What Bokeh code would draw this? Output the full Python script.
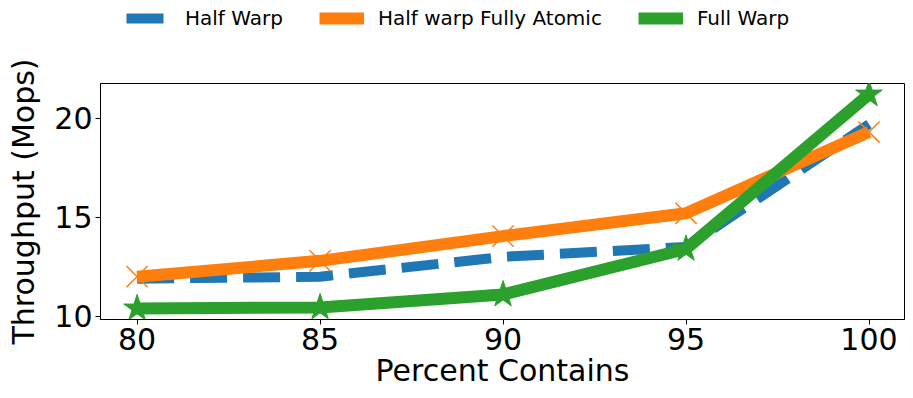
from bokeh.plotting import figure
from bokeh.models import Legend, LegendItem, FixedTicker, Range1d
from bokeh.layouts import column
from bokeh.embed import file_html
from bokeh.resources import INLINE

percent = [80, 85, 90, 95, 100]
half_warp = [11.9, 12.0, 13.0, 13.5, 19.7]
half_warp_atomic = [12.0, 12.8, 14.05, 15.2, 19.3]
full_warp = [10.4, 10.45, 11.1, 13.4, 21.2]
x_ticks = [80, 85, 90, 95, 100]
y_ticks = [10, 15, 20]

FONT = "DejaVu Sans"
BLUE, ORANGE, GREEN = "#1f77b4", "#ff7f0e", "#2ca02c"


def add_series(fig):
    r1 = fig.line(percent, half_warp, color=BLUE, line_width=10, line_dash="37 16")
    r2 = fig.line(percent, half_warp_atomic, color=ORANGE, line_width=12)
    m2 = fig.scatter(percent, half_warp_atomic, marker="x", size=30, line_color=ORANGE, line_width=1.5)
    r3 = fig.line(percent, full_warp, color=GREEN, line_width=12)
    m3 = fig.scatter(percent, full_warp, marker="star", size=28, fill_color=GREEN, line_color=GREEN)
    return r1, r2, m2, r3, m3


# ---- legend strip (series drawn off-view; only the legend shows) ----
leg = figure(width=905, height=40, output_backend="svg", toolbar_location=None,
             x_range=Range1d(0, 1), y_range=Range1d(0, 1),
             min_border=0, min_border_left=0, min_border_right=0,
             min_border_top=0, min_border_bottom=0)
leg.axis.visible = False
leg.grid.visible = False
leg.outline_line_color = None
lr1, lr2, lm2, lr3, lm3 = add_series(leg)
legend = Legend(items=[
    LegendItem(label="Half Warp", renderers=[lr1]),
    LegendItem(label="Half warp Fully Atomic", renderers=[lr2, lm2]),
    LegendItem(label="Full Warp", renderers=[lr3, lm3]),
], orientation="horizontal", location=(26, 10))
legend.border_line_color = None
legend.background_fill_alpha = 0
legend.label_text_font = FONT
legend.label_text_font_size = "20px"
legend.label_text_color = "black"
legend.glyph_width = 45
legend.glyph_height = 20
legend.label_standoff = 14
legend.spacing = 36
legend.padding = 5
legend.margin = 0
leg.add_layout(legend, "center")

# ---- main plot ----
p = figure(width=905, height=350, output_backend="svg", toolbar_location=None,
           x_range=Range1d(79.0, 100.97), y_range=Range1d(9.84, 21.75),
           min_border_left=100, min_border_right=1, min_border_top=43, min_border_bottom=0)
p.xgrid.visible = False
p.ygrid.visible = False
p.outline_line_color = "black"
p.outline_line_width = 1
p.background_fill_color = "white"
p.border_fill_color = "white"

add_series(p)

for ax in (p.xaxis[0], p.yaxis[0]):
    ax.major_label_text_font = FONT
    ax.major_label_text_font_size = "30px"
    ax.major_label_text_color = "black"
    ax.axis_label_text_font = FONT
    ax.axis_label_text_font_size = "30px"
    ax.axis_label_text_font_style = "normal"
    ax.axis_label_text_color = "black"
    ax.minor_tick_line_color = None
    ax.major_tick_out = 5
    ax.major_tick_in = 0
    ax.axis_line_color = "black"
    ax.major_label_standoff = 3

p.xaxis[0].ticker = FixedTicker(ticks=x_ticks)
p.yaxis[0].ticker = FixedTicker(ticks=y_ticks)
p.xaxis[0].axis_label = "Percent Contains"
p.yaxis[0].axis_label = "Throughput (Mops)"
p.xaxis[0].axis_label_standoff = 0
p.yaxis[0].axis_label_standoff = 10

layout = column(leg, p, spacing=0)
open("out.html", "w").write(file_html(layout, INLINE))
